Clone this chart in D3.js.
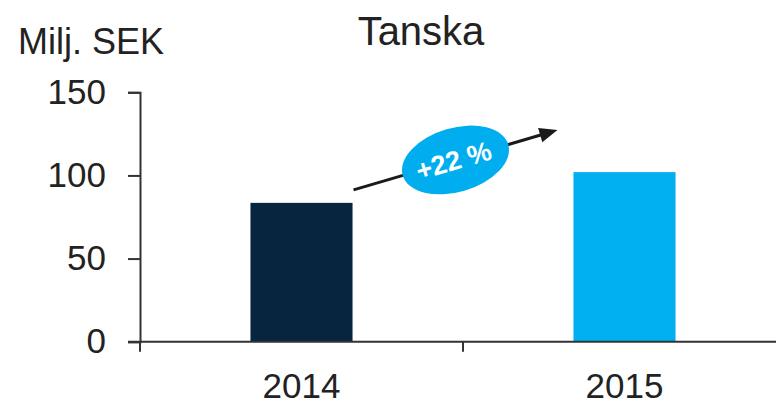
<!DOCTYPE html>
<html lang="en">
<head>
<meta charset="utf-8">
<title>Tanska</title>
<style type="text/css">
    body { margin: 0; background-color: #fff; }
    svg { display: block; }
    text { font-family: Arial, "Liberation Sans", sans-serif; fill: #222; }
    .axis path, .axis line { stroke: #333; stroke-width: 2px; }
    .axis text { font-size: 35px; fill: #222; font-family: Arial, "Liberation Sans", sans-serif; }
</style>
<script src="https://d3js.org/d3.v7.min.js"></script>
</head>
<body>
<div id="chart"></div>
<script>

// data
var years = ['2014', '2015'];
var values = [83.5, 102];
var colors = ['#08253f', '#00b0f0'];
var yTicks = [0, 50, 100, 150];
var growthLabel = '+22 %';

var width = 776, height = 400;
var mLeft = 140, mBottom = 341.7, mTop = 92.3, mRight = 786;

var svg = d3.select('#chart')
    .append('svg')
    .attr('width', width)
    .attr('height', height);

var x = d3.scaleBand()
    .domain(years)
    .range([mLeft, mRight])
    .padding(0);

var y = d3.scaleLinear()
    .domain([0, 150])
    .range([mBottom, mTop]);

var barW = x.bandwidth() * 0.316;

// bars
svg.selectAll('.bar')
    .data(years)
    .enter()
    .append('rect')
    .attr('class', 'bar')
    .attr('x', function(d) { return x(d) + x.bandwidth() / 2 - barW / 2; })
    .attr('y', function(d, i) { return y(values[i]); })
    .attr('width', barW)
    .attr('height', function(d, i) { return mBottom - y(values[i]); })
    .attr('fill', function(d, i) { return colors[i]; });

// y axis
var yAxis = d3.axisLeft(y).tickValues(yTicks).tickSize(12).tickPadding(22);
svg.append('g')
    .attr('class', 'axis')
    .attr('transform', 'translate(' + mLeft + ',0)')
    .call(yAxis);

// x axis: labels at band centres
var xAxis = d3.axisBottom(x).tickSize(0).tickPadding(31);
var xg = svg.append('g')
    .attr('class', 'axis')
    .attr('transform', 'translate(0,' + mBottom + ')')
    .call(xAxis);
xg.select('.domain').remove();

// x axis line and boundary ticks
svg.append('line')
    .attr('x1', mLeft - 12).attr('x2', width)
    .attr('y1', mBottom).attr('y2', mBottom)
    .attr('stroke', '#333').attr('stroke-width', 2);

var bounds = years.map(function(d) { return x(d); }).concat([mRight]);
svg.selectAll('.btick')
    .data(bounds)
    .enter()
    .append('line')
    .attr('class', 'btick')
    .attr('x1', function(d) { return d; }).attr('x2', function(d) { return d; })
    .attr('y1', mBottom).attr('y2', mBottom + 10)
    .attr('stroke', '#333').attr('stroke-width', 2);

// titles
svg.append('text')
    .attr('x', 421)
    .attr('y', 45)
    .attr('text-anchor', 'middle')
    .style('font-size', '40px')
    .text('Tanska');

svg.append('text')
    .attr('x', 18)
    .attr('y', 54)
    .style('font-size', '36px')
    .text('Milj. SEK');

// growth arrow
var x0 = x(years[0]) + x.bandwidth() / 2 + barW / 2 + 1;
var y0 = y(values[0]) - 13;
var x1 = x(years[1]) + x.bandwidth() / 2 - barW / 2 - 16;
var y1 = y(values[1]) - 42;
var ang = Math.atan2(y1 - y0, x1 - x0) * 180 / Math.PI;
var len = Math.sqrt((x1 - x0) * (x1 - x0) + (y1 - y0) * (y1 - y0));

var arrow = svg.append('g')
    .attr('transform', 'translate(' + x0 + ',' + y0 + ') rotate(' + ang + ')');

arrow.append('line')
    .attr('x1', 0).attr('y1', 0)
    .attr('x2', len - 14).attr('y2', 0)
    .attr('stroke', '#1a1a1a')
    .attr('stroke-width', 3);

arrow.append('path')
    .attr('d', 'M' + len + ',0 L' + (len - 18) + ',-7.5 L' + (len - 18) + ',7.5 Z')
    .attr('fill', '#1a1a1a');

var bubble = arrow.append('g')
    .attr('transform', 'translate(' + (len / 2) + ',0)');

bubble.append('ellipse')
    .attr('rx', 55)
    .attr('ry', 32)
    .attr('fill', '#00aeef');

bubble.append('text')
    .attr('x', -2)
    .attr('text-anchor', 'middle')
    .attr('dy', '0.35em')
    .style('font-size', '27px')
    .style('font-weight', 'bold')
    .style('fill', '#fff')
    .text(growthLabel);

</script>
</body>
</html>
